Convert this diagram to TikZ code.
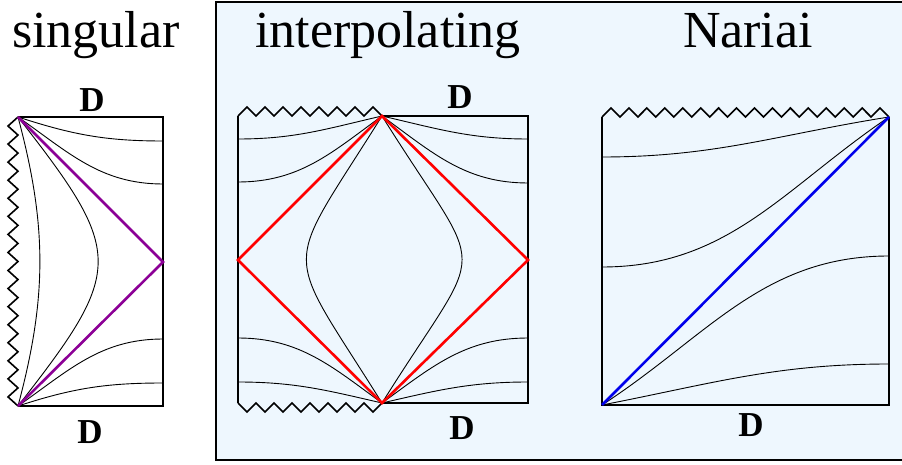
\documentclass[tikz,border=0pt]{standalone}
\usepackage{fontspec}
\setmainfont{Liberation Serif}
\usetikzlibrary{positioning,calc}
\definecolor{penrosepurple}{RGB}{140, 0, 150}
\definecolor{horizonred}{RGB}{255, 0, 0}
\definecolor{horizonblue}{RGB}{0, 0, 235}
\definecolor{panelblue}{RGB}{238, 247, 254}

\begin{document}
\begin{tikzpicture}[x=1pt, y=1pt, line join=miter,
    edge/.style={line width=1.6pt, black},
    slice/.style={line width=0.9pt, black},
    horizon/.style={line width=2.6pt},
    title/.style={anchor=base, font=\fontsize{52}{60}\selectfont},
    dlabel/.style={font=\fontsize{35}{40}\selectfont\bfseries, inner sep=0pt}]
    \useasboundingbox (0,0) rectangle (902,464);

    % Shaded frame round the interpolating and Nariai panels
    \draw[line width=1.6pt, fill=panelblue] (216,4) rectangle (910,462);

    % Titles
    \node[title] (T_SING) at (96,416) {singular};
    \node[title] (T_INTP) at (388,416) {interpolating};
    \node[title] (T_NAR) at (748,416) {Nariai};

    % Left Panel: singular
    \coordinate (S_TL) at (18,347);
    \coordinate (S_TR) at (163,347);
    \coordinate (S_BL) at (18,58);
    \coordinate (S_BR) at (163,58);
    \coordinate (S_MID) at (163,202);
    \draw[edge] (S_TL) -- (S_TR) -- (S_BR) -- (S_BL);
    \draw[edge] (S_TL) \foreach \k in {1,...,16} { -- ++(-10,-9.03) -- ++(10,-9.03) };

    \draw[slice] (S_TL) to[out=-18, in=180] (163,323);
    \draw[slice] (S_TL) to[out=-35, in=180] (163,280);
    \draw[slice] (S_BL) to[out=35, in=180] (163,125);
    \draw[slice] (S_BL) to[out=18, in=180] (163,81);
    \draw[slice] (S_TL) to[out=-75, in=75] (S_BL);
    \draw[slice] (S_TL) to[out=-52, in=52, looseness=1.54] (S_BL);

    \draw[horizon, penrosepurple] (S_TL) -- (S_MID) -- (S_BL);

    \node[dlabel] (S_DTOP) at (92,364) {D};
    \node[dlabel] (S_DBOT) at (90,32) {D};

    % Center Panel: interpolating
    \coordinate (I_TL) at (238,348);
    \coordinate (I_TV) at (382,348);
    \coordinate (I_TR) at (528,348);
    \coordinate (I_BL) at (238,61);
    \coordinate (I_BV) at (382,61);
    \coordinate (I_BR) at (528,61);
    \coordinate (I_LM) at (238,204);
    \coordinate (I_RM) at (528,204);
    \draw[edge] (I_TV) -- (I_TR) -- (I_BR) -- (I_BV);
    \draw[edge] (I_TL) -- (I_BL);
    \draw[edge] (I_TL) \foreach \k in {1,...,8} { -- ++(9,9) -- ++(9,-9) };
    \draw[edge] (I_BL) \foreach \k in {1,...,8} { -- ++(9,-9) -- ++(9,9) };

    \draw[slice] (I_TV) to[out=193, in=0] (238,325);
    \draw[slice] (I_TV) to[out=216, in=0] (238,282);
    \draw[slice] (I_TV) to[out=-13, in=180] (528,325);
    \draw[slice] (I_TV) to[out=-36, in=180] (528,281);
    \draw[slice] (I_BV) to[out=144, in=0] (238,126);
    \draw[slice] (I_BV) to[out=167, in=0] (238,82);
    \draw[slice] (I_BV) to[out=36, in=180] (528,126);
    \draw[slice] (I_BV) to[out=13, in=180] (528,82);
    \draw[slice] (I_TV) to[out=238, in=122, looseness=1.7] (I_BV);
    \draw[slice] (I_TV) to[out=-58, in=58, looseness=1.8] (I_BV);

    \draw[horizon, horizonred] (I_TV) -- (I_RM) -- (I_BV) -- (I_LM) -- cycle;

    \node[dlabel] (I_DTOP) at (460,367) {D};
    \node[dlabel] (I_DBOT) at (462,36) {D};

    % Right Panel: Nariai
    \coordinate (N_TL) at (602,347);
    \coordinate (N_TR) at (889,347);
    \coordinate (N_BL) at (602,59);
    \coordinate (N_BR) at (889,59);
    \draw[edge] (N_TL) -- (N_BL) -- (N_BR) -- (N_TR);
    \draw[edge] (N_TL) \foreach \k in {1,...,16} { -- ++(8.97,9) -- ++(8.97,-9) };

    \draw[slice] (N_TR) to[out=189, in=0] (602,307);
    \draw[slice] (N_TR) to[out=214, in=0] (602,197);
    \draw[slice] (N_BL) to[out=33, in=180] (889,208);
    \draw[slice] (N_BL) to[out=11, in=180] (889,100);

    \draw[horizon, horizonblue] (N_BL) -- (N_TR);

    \node[dlabel] (N_DBOT) at (751,39) {D};
\end{tikzpicture}
\end{document}
